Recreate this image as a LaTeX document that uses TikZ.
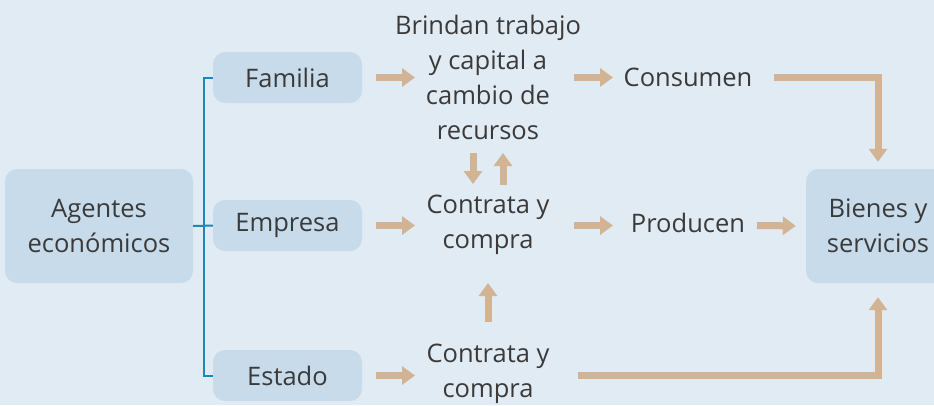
\documentclass[tikz,border=0pt]{standalone}
\usepackage{fontspec}
\setmainfont{Open Sans}
\usetikzlibrary{arrows.meta,calc}
\definecolor{bgcol}{RGB}{225,235,244}
\definecolor{boxcol}{RGB}{199,219,234}
\definecolor{arrcol}{RGB}{210,179,147}
\definecolor{brkcol}{RGB}{28,135,184}
\definecolor{txtcol}{RGB}{58,58,58}
\tikzset{
  box/.style={fill=boxcol, rounded corners=12pt, inner sep=0pt, align=center, text=txtcol},
  txt/.style={inner sep=0pt, align=center, text=txtcol},
  arr/.style={draw=arrcol, line width=7pt, -{Triangle[length=13pt,width=18pt]}},
  brk/.style={draw=brkcol, line width=2pt}
}
\begin{document}
\begin{tikzpicture}[x=1pt, y=-1pt, font=\fontsize{25.5}{35}\selectfont]
\fill[bgcol] (0,0) rectangle (934,405);
\useasboundingbox (0,0) rectangle (934,405);
% boxes
\node[box, minimum width=188pt, minimum height=114pt] (agentes) at (99,226) {Agentes\\econ\'omicos};
\node[box, minimum width=149pt, minimum height=51pt] (familia) at (287.5,77.5) {Familia};
\node[box, minimum width=149pt, minimum height=51pt] (empresa) at (287.5,225.5) {Empresa};
\node[box, minimum width=149pt, minimum height=51pt] (estado) at (287.5,375.5) {Estado};
\begin{scope}
\clip (0,0) rectangle (934,405);
\node[box, minimum width=144pt, minimum height=114pt] (bienes) at (878,226) {Bienes y\\servicios};
\end{scope}
% text nodes
\node[txt] (brindan) at (488,77.5) {Brindan trabajo\\y capital a\\cambio de\\recursos};
\node[txt] (consumen) at (688,77.5) {Consumen};
\node[txt] (contrata1) at (488,224.5) {Contrata y\\compra};
\node[txt] (producen) at (688,223) {Producen};
\node[txt] (contrata2) at (488,374) {Contrata y\\compra};
% bracket
\draw[brk] (agentes.east) -- (empresa.west);
\draw[brk] (familia.west) -| ([xshift=-9pt]empresa.west) |- (estado.west);
% arrows
\draw[arr, shorten <=14pt] (familia.east) -- ($(brindan)+(-73,0)$);
\draw[arr] ($(brindan)+(86,0)$) -- ($(consumen)+(-75,0)$);
\draw[arr, shorten >=7pt] ($(consumen)+(86,0)$) -| (bienes.north);
\draw[arr, shorten <=14pt] (empresa.east) -- ($(contrata1)+(-73,1)$);
\draw[arr] ($(contrata1)+(86,1)$) -- ($(producen)+(-75,2.5)$);
\draw[arr, shorten >=10pt] ($(producen)+(69,2.5)$) -- (bienes.west);
\draw[arr, shorten <=14pt] (estado.east) -- ($(contrata2)+(-73,1.5)$);
\draw[arr, shorten >=14pt] ($(contrata2)+(90,1.5)$) -| (bienes.south);
\draw[arr] ($(brindan)+(-15,75.5)$) -- ($(contrata1)+(-15,-40.5)$);
\draw[arr] ($(contrata1)+(15,-39.5)$) -- ($(brindan)+(15,75.5)$);
\draw[arr] ($(contrata2)+(0,-52)$) -- ($(contrata1)+(0,58.5)$);
\end{tikzpicture}
\end{document}
